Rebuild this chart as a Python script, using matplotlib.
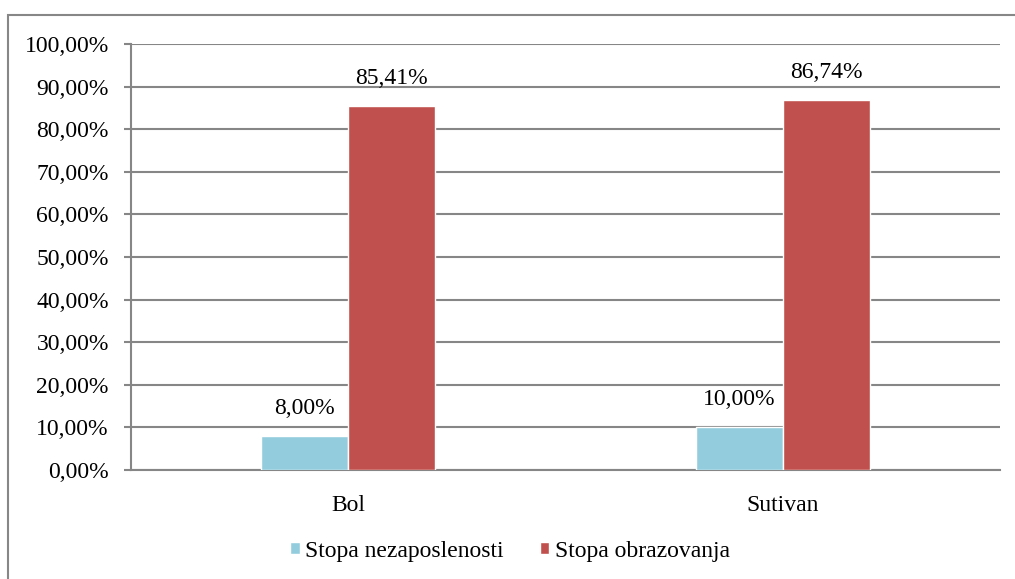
import matplotlib
matplotlib.use('Agg')
import matplotlib.pyplot as plt
import matplotlib.patches as mpatches
from matplotlib.ticker import FuncFormatter
import numpy as np

# data
categories = ['Bol', 'Sutivan']
series_names = ['Stopa nezaposlenosti', 'Stopa obrazovanja']
unemployment = [8.00, 10.00]
education = [85.41, 86.74]
colors = ['#93CDDD', '#C0504D']

plt.rcParams['font.family'] = ['Liberation Serif', 'DejaVu Serif']
FS = 17

W, H = 1015, 579
fig = plt.figure(figsize=(W / 100, H / 100), dpi=100)

# outer chart border (runs off the right and bottom edges)
border = mpatches.Rectangle((8 / W, -0.2), 1.2, 0.2 + 1 - 15 / H,
                            transform=fig.transFigure, fill=False,
                            edgecolor='#878787', linewidth=1.5)
fig.patches.append(border)

ax = fig.add_axes([131 / W, 1 - 470 / H, (1000 - 131) / W, (470 - 44) / H])

x = np.arange(len(categories)) + 0.5
width = 0.2
for i, (vals, name) in enumerate(zip([unemployment, education], series_names)):
    pos = x + (i - 0.5) * width
    bars = ax.bar(pos, vals, width=width, color=colors[i], edgecolor='white',
                  linewidth=1, label=name, zorder=3)
    for b, v in zip(bars, vals):
        ax.text(b.get_x() + b.get_width() / 2, v + 4, f'{v:.2f}%'.replace('.', ','),
                ha='center', va='bottom', fontsize=FS, color='black', zorder=4)

ax.set_xlim(0, 2)
ax.set_ylim(0, 100)
ax.set_yticks(np.arange(0, 101, 10))
ax.yaxis.set_major_formatter(FuncFormatter(lambda v, p: f'{v:.2f}%'.replace('.', ',')))
ax.set_xticks(x)
ax.set_xticklabels(categories)
ax.tick_params(axis='y', length=5, width=1.5, color='#868686', labelsize=FS, pad=11)
ax.tick_params(axis='x', length=0, labelsize=FS, pad=18)

ax.grid(axis='y', color='#868686', linewidth=1.5, zorder=0)
ax.set_axisbelow(True)
for s in ['top', 'right']:
    ax.spines[s].set_visible(False)
ax.spines['left'].set_color('#868686')
ax.spines['left'].set_linewidth(1.5)
ax.spines['bottom'].set_color('#868686')
ax.spines['bottom'].set_linewidth(1.5)

ax.legend(loc='center', bbox_to_anchor=(510 / W, 1 - 551 / H),
          bbox_transform=fig.transFigure, ncol=2, frameon=False, fontsize=FS,
          handlelength=0.4, handleheight=0.4, handletextpad=0.25, columnspacing=1.5)

plt.savefig('out.png', dpi=100)
